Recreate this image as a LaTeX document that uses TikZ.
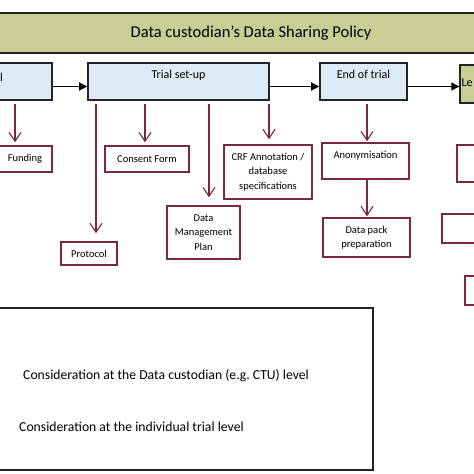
\documentclass[tikz,border=0pt]{standalone}
\usepackage{fontspec}
\setmainfont{Carlito}
\usetikzlibrary{arrows.meta}
\frenchspacing
\definecolor{dsOlive}{RGB}{200,206,148}
\definecolor{dsBlue}{RGB}{221,235,247}
\definecolor{dsMaroon}{RGB}{122,40,60}
\definecolor{dsGray}{RGB}{35,35,35}
\tikzset{
    base/.style={font=\fontsize{10.5}{14.5}\selectfont, align=center, inner sep=0pt},
    stage/.style={base, rectangle, draw=dsGray, line width=1.6pt, fill=dsBlue, minimum height=37pt},
    policy/.style={base, rectangle, draw=dsGray, line width=1.4pt, fill=dsOlive},
    item/.style={base, rectangle, draw=dsMaroon, line width=1.4pt, fill=white},
    toptext/.style={font=\fontsize{12}{14}\selectfont, inner sep=0pt, anchor=north, yshift=-8pt},
    flow/.style={-{Triangle[length=8pt,width=8pt]}, line width=1.2pt, color=black},
    down/.style={-{Straight Barb[length=9pt,width=12pt]}, line width=1.1pt, color=dsMaroon},
    legendtext/.style={font=\fontsize{13.7}{16}\selectfont, anchor=west, inner sep=0pt}
}

\begin{document}
\begin{tikzpicture}[x=1pt, y=-1pt]
  \useasboundingbox (0,0) rectangle (474,474);
  \fill[white] (0,0) rectangle (474,474);
  \clip (0,0) rectangle (474,474);

  % Policy banner
  \node[policy, minimum width=540pt, minimum height=40pt,
        font=\fontsize{16.5}{18}\selectfont] (banner) at (251,33)
        {Data custodian’s Data Sharing Policy};

  % Stages of the trial
  \node[stage, minimum width=112pt] (first) at (-4,81.5) {};
  \node[font=\fontsize{12}{14}\selectfont, inner sep=0pt] (firstlbl) at (1.5,77) {l};
  \node[stage, minimum width=181pt, label={[toptext]north:Trial set-up}] (setup) at (178.5,81.5) {};
  \node[stage, minimum width=87pt, label={[toptext]north:End of trial}] (endtrial) at (363.5,81.5) {};
  \node[policy, minimum width=60pt, minimum height=38pt,
        label={[toptext, anchor=north west, xshift=2pt, yshift=-6pt]north west:Le}] (last) at (490,84) {};

  \draw[flow] ([yshift=-5pt]first.east) -- ([yshift=-5pt]setup.west);
  \draw[flow] ([yshift=-5pt]setup.east) -- ([yshift=-5pt]endtrial.west);
  \draw[flow] ([yshift=-5pt]endtrial.east) -- ([yshift=-5pt]endtrial.east -| last.west);

  % Trial level items
  \node[item, minimum width=54pt, minimum height=26pt] (funding) at (25,159) {Funding};
  \node[item, minimum width=56pt, minimum height=23pt] (protocol) at (89,253.5) {Protocol};
  \node[item, minimum width=84pt, minimum height=26pt] (consent) at (147,159) {Consent Form};
  \node[item, minimum width=73pt, minimum height=53pt] (dmp) at (203.5,232.5) {Data\\Management\\Plan};
  \node[item, minimum width=88pt, minimum height=54pt] (crf) at (268,172) {CRF Annotation /\\database\\specifications};
  \node[item, minimum width=87pt, minimum height=36pt,
        label={[toptext, font=\fontsize{10.5}{12}\selectfont, yshift=-1pt]north:Anonymisation}] (anon) at (365.5,161) {};
  \node[item, minimum width=87pt, minimum height=39pt] (datapack) at (366.5,237.5) {Data pack\\preparation};
  \node[item, minimum width=63pt, minimum height=37pt] (rone) at (488.5,163.5) {};
  \node[item, minimum width=78pt, minimum height=29pt] (rtwo) at (481,228.5) {};
  \node[item, minimum width=55pt, minimum height=29pt] (rthree) at (492.5,290.5) {};

  \coordinate (fa) at ([xshift=-10pt]funding.north);
  \coordinate (pa) at ([xshift=7pt]protocol.north);
  \coordinate (ca) at ([xshift=-2pt]consent.north);
  \coordinate (da) at ([xshift=5.5pt]dmp.north);
  \coordinate (ra) at ([xshift=1pt]crf.north);
  \coordinate (aa) at ([xshift=1.5pt]anon.north);
  \coordinate (pp) at ([xshift=0.5pt]datapack.north);

  \draw[down, shorten <=3pt, shorten >=3pt] (first.south -| fa) -- (fa);
  \draw[down, shorten <=3pt, shorten >=8pt] (setup.south -| pa) -- (pa);
  \draw[down, shorten <=3pt, shorten >=3pt] (setup.south -| ca) -- (ca);
  \draw[down, shorten <=3pt, shorten >=8pt] (setup.south -| da) -- (da);
  \draw[down, shorten <=3pt, shorten >=5pt] (setup.south -| ra) -- (ra);
  \draw[down, shorten <=3pt, shorten >=1pt] (endtrial.south -| aa) -- (aa);
  \draw[down, shorten >=1pt] (anon.south -| pp) -- (pp);

  % Legend
  \node[draw=dsGray, line width=1.2pt, minimum width=390pt, minimum height=162pt, inner sep=0pt] (legend) at (178,389) {};
  \node[legendtext] (custlvl) at (23,376) {Consideration at the Data custodian (e.g. CTU) level};
  \node[legendtext] (triallvl) at (19,427) {Consideration at the individual trial level};
\end{tikzpicture}
\end{document}
